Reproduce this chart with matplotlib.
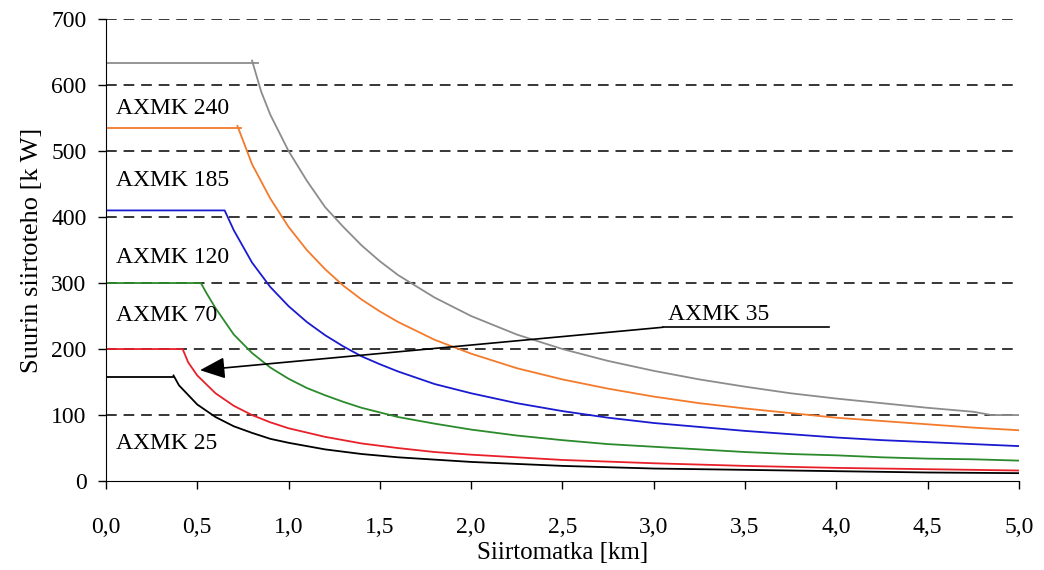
import matplotlib.pyplot as plt

# Suurin siirtoteho eri kaapeleille siirtomatkan funktiona
gray_flat_x = [0.0, 0.83]
gray_flat_y = [633, 633]
gray_x = [0.80, 0.85, 0.90, 1.0, 1.1, 1.2, 1.3, 1.4, 1.5, 1.6, 1.8, 2.0, 2.25, 2.5,
          2.75, 3.0, 3.25, 3.5, 3.75, 4.0, 4.25, 4.5, 4.75, 4.85, 5.0]
gray_y = [637, 590, 555, 500, 455, 415, 385, 357, 333, 312, 278, 250, 222, 200,
          182, 167, 154, 143, 133, 125, 118, 111, 105, 100, 100]

orange_flat_x = [0.0, 0.74]
orange_flat_y = [535, 535]
orange_x = [0.72, 0.8, 0.9, 1.0, 1.1, 1.2, 1.3, 1.4, 1.5, 1.6, 1.8, 2.0, 2.25, 2.5,
            2.75, 3.0, 3.25, 3.5, 3.75, 4.0, 4.25, 4.5, 4.75, 5.0]
orange_y = [538, 480, 428, 385, 350, 321, 296, 275, 257, 241, 214, 193, 171, 154,
            140, 128, 118, 110, 103, 96, 91, 86, 81, 77]

blue_x = [0.0, 0.65, 0.7, 0.8, 0.9, 1.0, 1.1, 1.2, 1.3, 1.4, 1.5, 1.6, 1.8, 2.0, 2.25, 2.5,
          2.75, 3.0, 3.25, 3.5, 3.75, 4.0, 4.25, 4.5, 4.75, 5.0]
blue_y = [410, 410, 380, 331, 294, 265, 241, 221, 204, 189, 177, 166, 147, 133, 118, 106,
          96, 88, 82, 76, 71, 66, 62, 59, 56, 53]

green_x = [0.0, 0.52, 0.55, 0.6, 0.7, 0.8, 0.9, 1.0, 1.1, 1.2, 1.3, 1.4, 1.5, 1.6, 1.8, 2.0,
           2.25, 2.5, 2.75, 3.0, 3.25, 3.5, 3.75, 4.0, 4.25, 4.5, 4.75, 5.0]
green_y = [300, 300, 285, 262, 222, 194, 172, 155, 141, 130, 120, 111, 104, 97, 87, 78,
           69, 62, 56, 52, 48, 44, 41, 39, 36, 34, 33, 31]

red_x = [0.0, 0.42, 0.45, 0.5, 0.6, 0.7, 0.8, 0.9, 1.0, 1.2, 1.4, 1.6, 1.8, 2.0, 2.5,
         3.0, 3.5, 4.0, 4.5, 5.0]
red_y = [200, 200, 180, 160, 133, 114, 100, 89, 80, 67, 57, 50, 44, 40, 32,
         27, 23, 20, 18, 16]

black_flat_x = [0.0, 0.37]
black_flat_y = [157, 157]
black_x = [0.37, 0.4, 0.5, 0.6, 0.7, 0.8, 0.9, 1.0, 1.2, 1.4, 1.6, 2.0, 2.5, 3.0, 3.5,
           4.0, 4.5, 5.0]
black_y = [160, 145, 116, 97, 83, 73, 64, 58, 48, 41, 36, 29, 23, 19, 17,
           15, 13, 12]

labels = ['AXMK 240', 'AXMK 185', 'AXMK 120', 'AXMK 70', 'AXMK 25']
label_y = [565, 456, 338, 251, 57]

x_ticks = [0.0, 0.5, 1.0, 1.5, 2.0, 2.5, 3.0, 3.5, 4.0, 4.5, 5.0]
y_ticks = [0, 100, 200, 300, 400, 500, 600, 700]

plt.rcParams['font.family'] = ['Liberation Serif', 'DejaVu Serif']

fig = plt.figure(figsize=(10.44, 5.7), dpi=100)
ax = fig.add_axes([0.1015, 0.156, 0.8745, 0.8107])

for yv in y_ticks[1:]:
    ax.axhline(yv, color='black', lw=1.1, ls=(0, (7, 4.5)), zorder=1)

lw = 1.3
ax.plot(gray_flat_x, gray_flat_y, color='#8c8c8c', lw=lw)
ax.plot(gray_x, gray_y, color='#8c8c8c', lw=lw)
ax.plot(orange_flat_x, orange_flat_y, color='#f47a2c', lw=lw)
ax.plot(orange_x, orange_y, color='#f47a2c', lw=lw)
ax.plot(blue_x, blue_y, color='#1a1ad0', lw=lw)
ax.plot(green_x, green_y, color='#2b8a2b', lw=lw)
ax.plot(red_x, red_y, color='#e8202a', lw=lw)
ax.plot(black_flat_x, black_flat_y, color='black', lw=lw)
ax.plot(black_x, black_y, color='black', lw=lw)

for txt, yv in zip(labels, label_y):
    ax.text(0.055, yv, txt, fontsize=17, va='center', ha='left')

# AXMK 35 -nuoli
ax.annotate('', xy=(0.515, 168), xytext=(3.05, 233),
            arrowprops=dict(arrowstyle='-|>,head_length=0.7,head_width=0.3',
                            color='black', lw=1.2,
                            mutation_scale=22, shrinkA=0, shrinkB=0))
ax.plot([3.05, 3.96], [233, 233], color='black', lw=1.2)
ax.text(3.08, 237, 'AXMK 35', fontsize=17, va='bottom', ha='left')

ax.set_xlim(0, 5.0)
ax.set_ylim(0, 700)
ax.set_xticks(x_ticks)
ax.set_xticklabels([f'{v:.1f}'.replace('.', ',') for v in x_ticks])
ax.set_yticks(y_ticks)
ax.tick_params(axis='both', labelsize=17, length=6, width=1, direction='out')
ax.tick_params(axis='x', pad=20)
ax.tick_params(axis='y', pad=8)
ax.spines['top'].set_visible(False)
ax.spines['right'].set_visible(False)
ax.set_xlabel('Siirtomatka [km]', fontsize=18, labelpad=3)
ax.set_ylabel('Suurin siirtoteho [k W]', fontsize=19, labelpad=6)

plt.savefig('out.png', dpi=100)
